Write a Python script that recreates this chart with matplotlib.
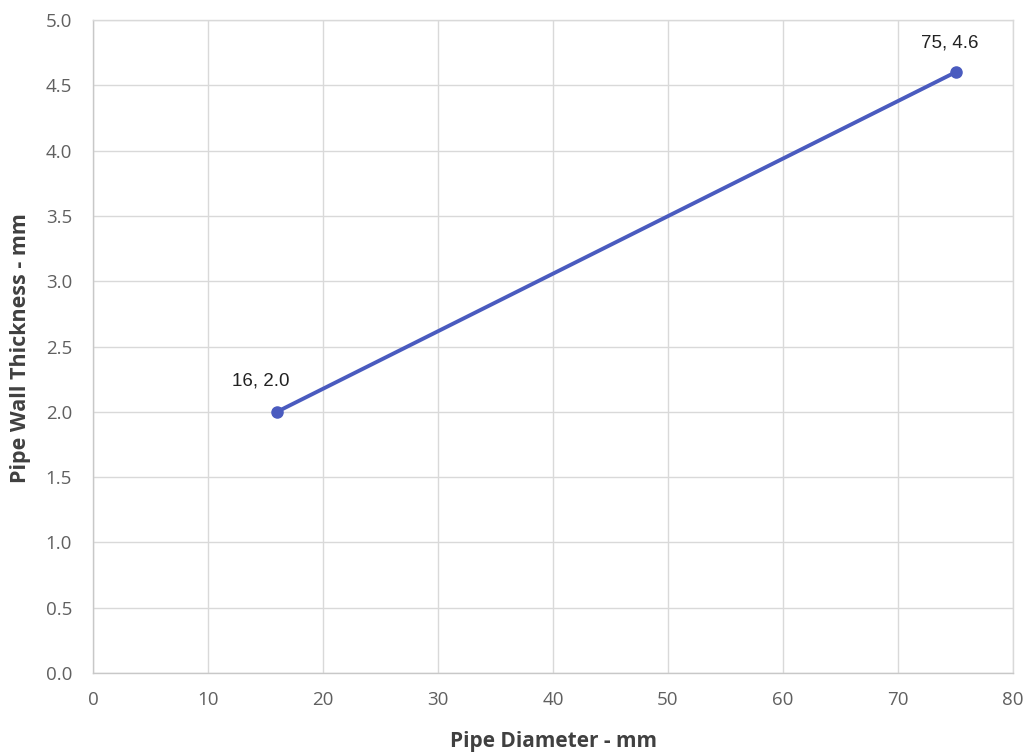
import matplotlib
matplotlib.use("Agg")
import matplotlib.pyplot as plt

# Data
diameters = [16, 75]
thickness = [2.0, 4.6]
point_labels = ["16, 2.0", "75, 4.6"]
x_ticks = [0, 10, 20, 30, 40, 50, 60, 70, 80]
y_ticks = [0.0, 0.5, 1.0, 1.5, 2.0, 2.5, 3.0, 3.5, 4.0, 4.5, 5.0]
x_title = "Pipe Diameter - mm"
y_title = "Pipe Wall Thickness - mm"

label_offsets = [(-16, 31), (-6, 29)]

W, H = 1032, 755
fig = plt.figure(figsize=(W / 100, H / 100), dpi=100)
ax = fig.add_axes([93 / W, (H - 673) / H, (1013 - 93) / W, (673 - 20) / H])

line_color = "#4a5bbf"
ax.plot(diameters, thickness, color=line_color, lw=2.8, marker="o", ms=8,
        solid_capstyle="round", zorder=3)
for x, y, lab, off in zip(diameters, thickness, point_labels, label_offsets):
    ax.annotate(lab, (x, y), xytext=off, textcoords="offset pixels",
                ha="center", va="center", fontsize=13.5, color="#222222",
                family="Liberation Sans")

ax.set_xlim(x_ticks[0], x_ticks[-1])
ax.set_ylim(y_ticks[0], y_ticks[-1])
ax.set_xticks(x_ticks)
ax.set_yticks(y_ticks)
ax.set_xticklabels([str(t) for t in x_ticks])
ax.set_yticklabels([f"{t:.1f}" for t in y_ticks])

grid_c = "#d9d9d9"
ax.grid(True, color=grid_c, lw=1.0, zorder=0)
for s in ax.spines.values():
    s.set_color(grid_c)
    s.set_linewidth(1.0)
ax.spines["left"].set_color("#c8c8c8")
ax.spines["bottom"].set_color("#c8c8c8")
ax.tick_params(length=0, colors="#606060", labelsize=13.5)
ax.tick_params(axis="x", pad=13)
ax.tick_params(axis="y", pad=15)
for lab in ax.get_xticklabels() + ax.get_yticklabels():
    lab.set_family("Open Sans")

ax.set_xlabel(x_title, fontsize=15, fontweight="bold", color="#404040",
              family="Open Sans", va="center")
ax.set_ylabel(y_title, fontsize=15.5, fontweight="bold", color="#404040",
              family="Open Sans", va="center")
ax.xaxis.set_label_coords(0.5, (673 - 742) / 653)
ax.yaxis.set_label_coords((21 - 93) / 920, (673 - 348) / 653)

fig.savefig("out.png", dpi=100, facecolor="white")
